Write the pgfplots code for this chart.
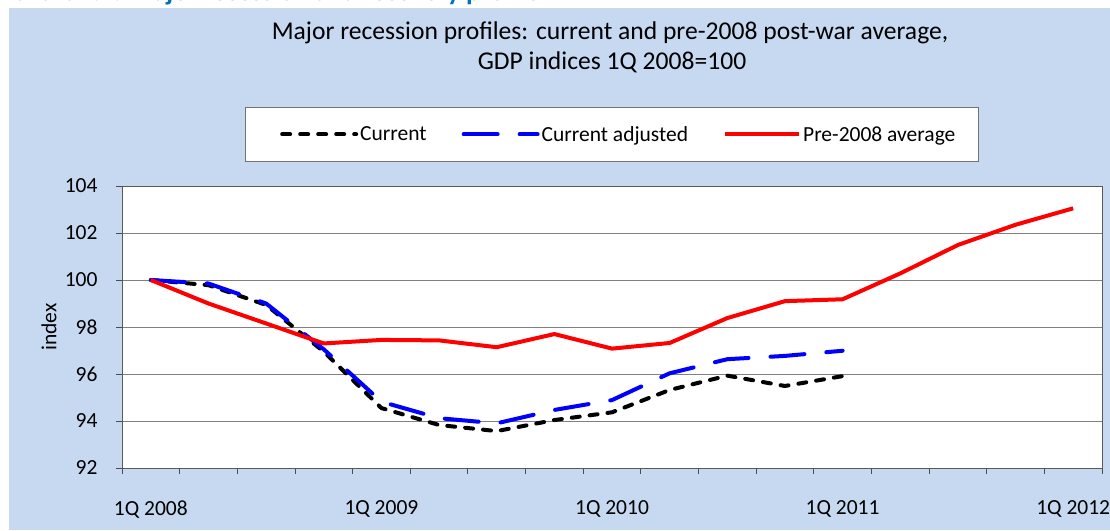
\documentclass[border=0pt]{standalone}
\usepackage{pgfplots}
\pgfplotsset{compat=1.18}
\usepackage{fontspec}
\setmainfont{Carlito}
\definecolor{bgblue}{HTML}{C6D9F1}
\definecolor{titleblue}{HTML}{0070C0}

\pgfplotstableread{
x cur adj
0 100.00 100.00
1 99.78 99.85
2 98.94 99.00
3 96.95 97.05
4 94.55 94.82
5 93.83 94.12
6 93.57 93.90
7 94.04 94.47
8 94.37 94.89
9 95.32 96.03
10 95.93 96.63
11 95.49 96.77
12 95.91 96.99
}\currenttable

\pgfplotstableread{
x avg
0 100.00
1 99.00
2 98.15
3 97.30
4 97.45
5 97.43
6 97.14
7 97.70
8 97.08
9 97.32
10 98.38
11 99.10
12 99.18
13 100.28
14 101.49
15 102.35
16 103.05
}\avgtable

\begin{document}
\begin{tikzpicture}[x=1pt,y=1pt]
\useasboundingbox (0,0) rectangle (1110,530);
\fill[bgblue] (9,0) rectangle (1110,522);
\node[anchor=base west, font=\fontsize{27}{30}\selectfont\bfseries, text=titleblue, inner sep=0pt] at (12,529) {Chart 1.1: Major recession and recovery profile};
\node[font=\fontsize{25.6}{28}\selectfont, inner sep=0pt] at (610,497) {Major recession profiles: current and pre-2008 post-war average,};
\node[font=\fontsize{25.6}{28}\selectfont, inner sep=0pt] at (612,468) {GDP indices 1Q 2008=100};
\begin{axis}[
  at={(122pt,62pt)}, anchor=south west,
  width=980pt, height=282pt, scale only axis,
  font=\fontsize{21.5}{25}\selectfont,
  axis background/.style={fill=white},
  xmin=-0.5, xmax=16.5, ymin=92, ymax=104,
  ytick={92,94,...,104},
  xtick={-0.5,0.5,...,16.5},
  xticklabels={},
  extra x ticks={0,4,8,12,16},
  extra x tick labels={1Q 2008,1Q 2009,1Q 2010,1Q 2011,1Q 2012},
  extra x tick style={grid=none, major tick length=0pt, xticklabel style={yshift=-29pt}},
  yticklabel style={xshift=-15pt},
  tick align=outside, tick pos=left, major tick length=6pt,
  tick style={black!70, line width=0.8pt},
  ymajorgrids, grid style={black!50, line width=0.8pt},
  axis line style={draw=black!65, line width=0.8pt},
  /pgf/number format/assume math mode=true,
  ylabel={index},
  every axis y label/.style={at={(axis description cs:-0.0745,0.5)}, rotate=90, anchor=center},
  legend columns=3,
  legend style={at={(0.1255,1.2801)}, anchor=north west, draw=black!55, fill=white,
    inner xsep=35pt, inner ysep=17pt, nodes={inner sep=2pt},
    /tikz/every even column/.append style={column sep=33pt}},
  legend image code/.code={\draw[#1] (0pt,0pt) -- (74pt,0pt);},
]
\addplot[black, line width=4pt, line cap=round, dash pattern=on 8pt off 10pt] table[x=x,y=cur] {\currenttable};
\addlegendentry{Current}
\addplot[blue, line width=4pt, line cap=round, dash pattern=on 34pt off 22pt] table[x=x,y=adj] {\currenttable};
\addlegendentry{Current adjusted}
\addplot[red, line width=4pt, line join=round] table[x=x,y=avg] {\avgtable};
\addlegendentry{Pre-2008 average\hspace*{-14pt}}
\end{axis}
\end{tikzpicture}
\end{document}
